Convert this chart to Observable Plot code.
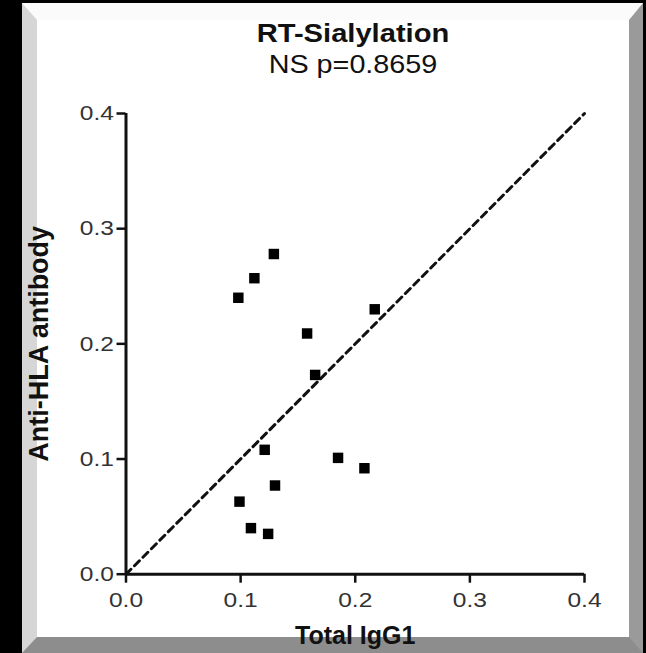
<!DOCTYPE html>
<html><head><meta charset="utf-8">
<script src="https://cdn.jsdelivr.net/npm/d3@7"></script>
<script src="https://cdn.jsdelivr.net/npm/@observablehq/plot@0.6"></script>
<style>
html,body{margin:0;padding:0;background:#000;width:646px;height:653px;overflow:hidden;}
#frame{position:absolute;left:22px;top:3px;width:621px;height:650px;box-sizing:border-box;background:#fff;
border-left:15px solid #d6d6d6;border-top:17px solid #fbfbfb;border-right:14px solid #9a9a9a;border-bottom:16px solid #8d8d8d;}
.t{position:absolute;left:0;width:706px;text-align:center;font-family:"Liberation Sans",Arial,sans-serif;color:#111;line-height:1;white-space:nowrap;}
#title{top:19.7px;font-size:26px;font-weight:bold;transform:scaleX(1.12);}
#subtitle{top:51.5px;font-size:25px;transform:scaleX(1.15);}
#chart{position:absolute;left:0;top:85px;}
</style></head>
<body>
<div id="frame"></div>
<div class="t" id="title">RT-Sialylation</div>
<div class="t" id="subtitle">NS p=0.8659</div>
<div id="chart"></div>
<script>
const totalIgG1 = [0.129, 0.112, 0.098, 0.158, 0.217, 0.165, 0.121, 0.185, 0.208, 0.130, 0.099, 0.109, 0.124];
const antiHLA   = [0.278, 0.257, 0.240, 0.209, 0.230, 0.173, 0.108, 0.101, 0.092, 0.077, 0.063, 0.040, 0.035];
const xTicks = [0, 0.1, 0.2, 0.3, 0.4];
const yTicks = [0, 0.1, 0.2, 0.3, 0.4];
const identityLine = [0, 0.4];
const xLabel = "Total IgG1";
const yLabel = "Anti-HLA antibody";

const points = totalIgG1.map((x, i) => ({x, y: antiHLA[i]}));
const diag = identityLine.map(v => ({x: v, y: v}));

const chart = Plot.plot({
  width: 646, height: 568,
  marginLeft: 125.5, marginRight: 62, marginTop: 28, marginBottom: 79.3,
  style: {background: "transparent", fontFamily: '"Liberation Sans", Arial, sans-serif', overflow: "visible"},
  x: {domain: [0, 0.4]},
  y: {domain: [0, 0.4]},
  marks: [
    Plot.axisX(xTicks, {tickSize: 9, tickPadding: 9, fontSize: 21, fill: "#333", stroke: "#111", strokeWidth: 2.5, tickFormat: d => d.toFixed(1), label: null}),
    Plot.axisY(yTicks, {tickSize: 9, tickPadding: 3, fontSize: 21, fill: "#333", stroke: "#111", strokeWidth: 2.5, tickFormat: d => d.toFixed(1), label: null}),
    Plot.ruleY([0], {x1: 0, x2: 0.4, stroke: "#111", strokeWidth: 3}),
    Plot.ruleX([0], {y1: 0, y2: 0.4, stroke: "#111", strokeWidth: 3}),
    Plot.line(diag, {x: "x", y: "y", stroke: "#111", strokeWidth: 3, strokeDasharray: "7,5"}),
    Plot.dot(points, {x: "x", y: "y", symbol: "square", r: 5.9, fill: "#000", stroke: null}),
    Plot.text([xLabel], {text: d => d, frameAnchor: "bottom", textAnchor: "middle", lineAnchor: "bottom", dy: 69.6, fontSize: 25, fontWeight: "bold", fill: "#111"}),
    Plot.text([yLabel], {text: d => d, frameAnchor: "left", textAnchor: "middle", lineAnchor: "bottom", rotate: -90, dx: -78, fontSize: 27, fontWeight: "bold", fill: "#111"})
  ]
});
chart.querySelectorAll('g[aria-label$="tick label"] text').forEach(t => {
  t.setAttribute("transform", (t.getAttribute("transform") || "") + " scale(1.17,1)");
});
document.getElementById("chart").appendChild(chart);
</script>
</body></html>
